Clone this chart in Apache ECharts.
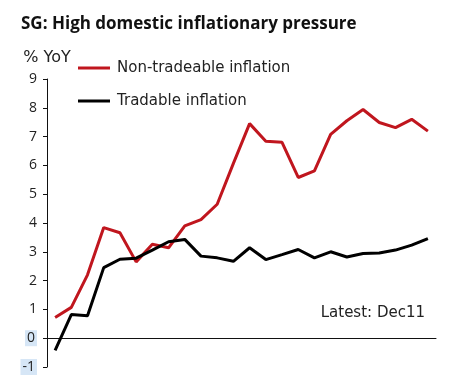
<!DOCTYPE html>
<html>
<head>
<meta charset="utf-8">
<script src="https://cdn.jsdelivr.net/npm/echarts@6/dist/echarts.min.js"></script>
<style>
  html, body { margin: 0; padding: 0; background: #fff; }
  #main { width: 467px; height: 377px; }
</style>
</head>
<body>
<div id="main"></div>
<script>
// monthly, Jan10 - Dec11
var months = ['Jan10', 'Feb10', 'Mar10', 'Apr10', 'May10', 'Jun10', 'Jul10', 'Aug10', 'Sep10', 'Oct10', 'Nov10', 'Dec10',
  'Jan11', 'Feb11', 'Mar11', 'Apr11', 'May11', 'Jun11', 'Jul11', 'Aug11', 'Sep11', 'Oct11', 'Nov11', 'Dec11'];
var nonTradeable = [0.72, 1.07, 2.2, 3.84, 3.66, 2.65, 3.26, 3.14, 3.9, 4.12, 4.65, 6.07,
  7.45, 6.84, 6.8, 5.58, 5.81, 7.08, 7.55, 7.94, 7.49, 7.31, 7.6, 7.19];
var tradable = [-0.42, 0.82, 0.78, 2.45, 2.74, 2.78, 3.06, 3.35, 3.43, 2.85, 2.79, 2.67,
  3.14, 2.73, 2.9, 3.08, 2.79, 3.0, 2.82, 2.94, 2.96, 3.06, 3.23, 3.46];
var yTicks = [-1, 0, 1, 2, 3, 4, 5, 6, 7, 8, 9];

var myChart = echarts.init(document.getElementById('main'));
var font = 'Open Sans';
var font2 = 'DejaVu Sans';

var option = {
  backgroundColor: '#fff',
  animation: false,
  title: {
    text: 'SG: High domestic inflationary pressure',
    left: 16,
    top: 11,
    textStyle: { fontFamily: font, fontSize: 17, fontWeight: 'bold', color: '#111' }
  },
  legend: {
    orient: 'vertical',
    left: 73,
    top: 54,
    itemWidth: 32,
    itemHeight: 3,
    itemGap: 15,
    icon: 'rect',
    textStyle: { fontFamily: font2, fontSize: 15, color: '#222', lineHeight: 18, padding: [0, 0, 0, 2] },
    data: ['Non-tradeable inflation', 'Tradable inflation']
  },
  grid: { left: 47, right: 31, top: 79, bottom: 10 },
  xAxis: {
    type: 'category',
    data: months,
    boundaryGap: true,
    axisLine: { onZero: true, lineStyle: { color: '#111', width: 1 } },
    axisTick: { interval: 5, length: 5, lineStyle: { color: '#111' } },
    axisLabel: { show: false }
  },
  yAxis: {
    type: 'value',
    min: yTicks[0],
    max: yTicks[yTicks.length - 1],
    interval: 1,
    splitLine: { show: false },
    axisLine: { show: true, lineStyle: { color: '#111', width: 1 } },
    axisTick: { show: true, length: 4, lineStyle: { color: '#111' } },
    axisLabel: {
      fontFamily: font,
      fontSize: 14,
      color: '#222',
      margin: 10,
      formatter: function (v) {
        return v <= 0 ? '{hl|' + v + '}' : String(v);
      },
      rich: {
        hl: { backgroundColor: '#d6e6f6', padding: [1, 2, 1, 2], fontFamily: font, fontSize: 14, color: '#222' }
      }
    },
    name: '% YoY',
    nameLocation: 'end',
    nameGap: 13,
    nameTextStyle: { fontFamily: font2, fontSize: 16, color: '#222', align: 'center' }
  },
  series: [
    {
      name: 'Non-tradeable inflation',
      type: 'line',
      data: nonTradeable,
      symbol: 'none',
      color: '#c0161e',
      lineStyle: { width: 3, color: '#c0161e' }
    },
    {
      name: 'Tradable inflation',
      type: 'line',
      data: tradable,
      symbol: 'none',
      color: '#000',
      lineStyle: { width: 3, color: '#000' }
    }
  ],
  graphic: [
    {
      type: 'text',
      right: 42,
      top: 306,
      style: { text: 'Latest: Dec11', fontFamily: font2, fontSize: 15, fill: '#222' }
    }
  ]
};

myChart.setOption(option);
</script>
</body>
</html>
